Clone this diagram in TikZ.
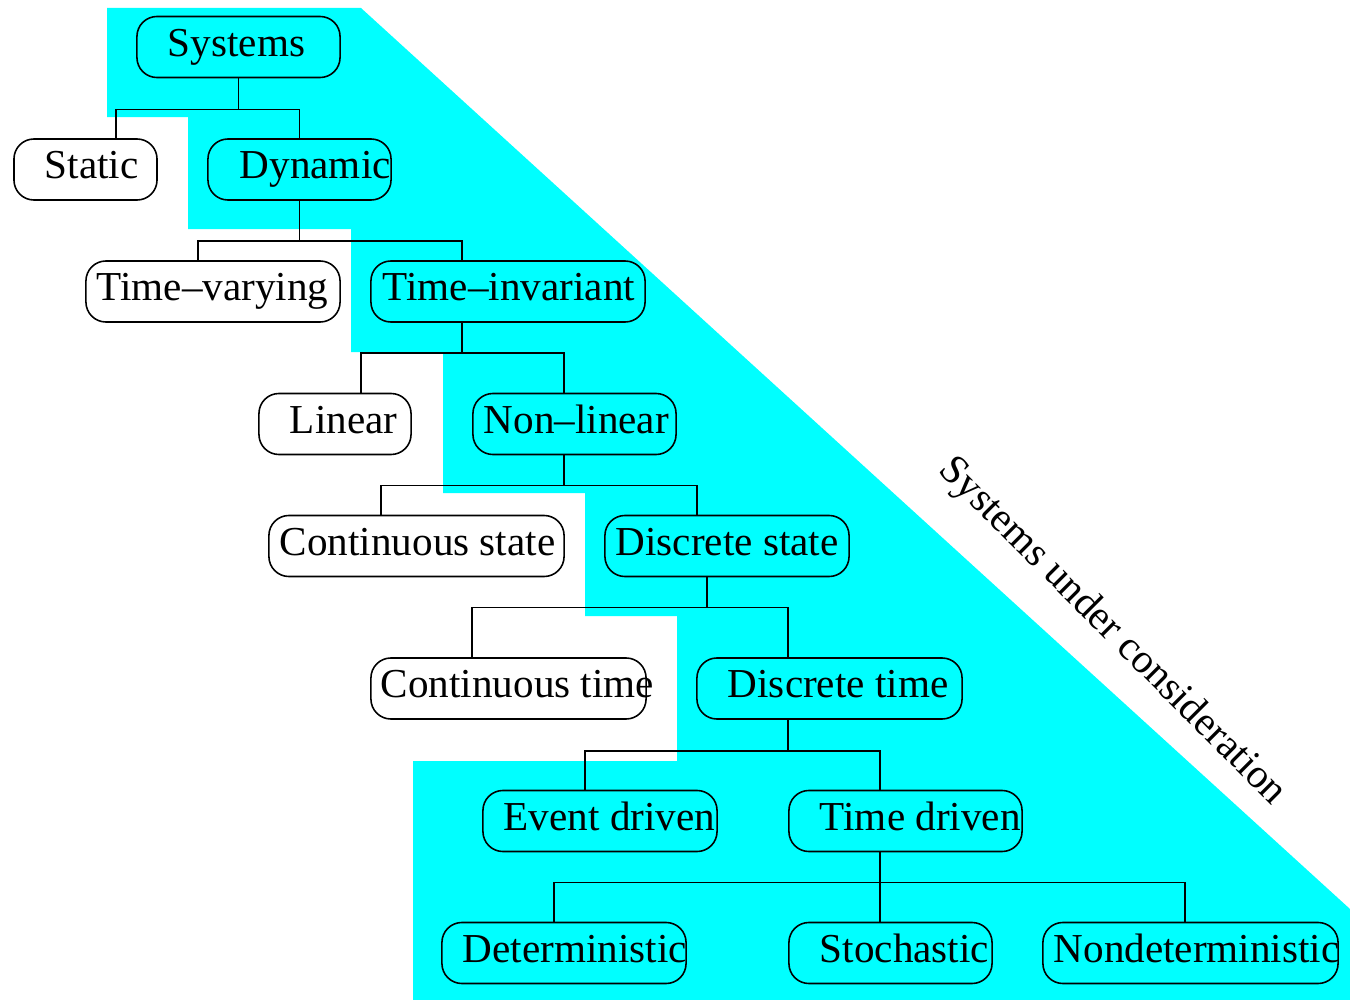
\documentclass[tikz,border=0pt]{standalone}
\usepackage{fontspec}
\setmainfont{Liberation Serif}
\usepackage{xcolor}
\usepackage{tikz}
\usetikzlibrary{calc}

\definecolor{considered}{RGB}{0,255,255}

\begin{document}
\begin{tikzpicture}[x=0.01cm, y=-0.01cm,
  sysbox/.style={draw, line width=0.45pt, rounded corners=0.2cm,
    minimum height=0.61cm, inner sep=0pt},
  boxtext/.style={anchor=west, inner sep=0pt, text height=0.76em,
    text depth=0.22em, font=\fontsize{11.7}{13}\selectfont},
  wire/.style={line width=0.45pt}]

% === Drawing region ===
\useasboundingbox (0,0) rectangle (1350,1000);

% === Region of the systems under consideration ===
\fill[considered] (107,8) -- (361,8) -- (1350,909) -- (1350,1000)
  -- (413,1000) -- (413,761) -- (677,761) -- (677,616) -- (585,616)
  -- (585,493) -- (443,493) -- (443,352) -- (351,352) -- (351,229)
  -- (188,229) -- (188,117) -- (107,117) -- cycle;

\node[rotate=-45, font=\fontsize{11.7}{13}\selectfont] (uc) at (1112,632)
  {Systems under consideration};

% === Boxes ===
\node[sysbox, minimum width=2.03cm, label={[boxtext, xshift=0.31cm]west:Systems}] (sys) at (238.5,47) {};

\node[sysbox, minimum width=1.43cm, label={[boxtext, xshift=0.31cm]west:Static}] (stat) at (85.5,169.5) {};
\node[sysbox, minimum width=1.83cm, label={[boxtext, xshift=0.32cm]west:Dynamic}] (dyn) at (299.5,169.5) {};

\node[sysbox, minimum width=2.54cm, label={[boxtext, xshift=0.11cm]west:Time--varying}] (tvar) at (213,291.5) {};
\node[sysbox, minimum width=2.74cm, label={[boxtext, xshift=0.12cm]west:Time--invariant}] (tinv) at (508,291.5) {};

\node[sysbox, minimum width=1.52cm, label={[boxtext, xshift=0.31cm]west:Linear}] (lin) at (335,424) {};
\node[sysbox, minimum width=2.03cm, label={[boxtext, xshift=0.11cm]west:Non--linear}] (nonlin) at (574.5,424) {};

\node[sysbox, minimum width=2.95cm, label={[boxtext, xshift=0.11cm]west:Continuous state}] (cstate) at (416.5,546) {};
\node[sysbox, minimum width=2.44cm, label={[boxtext, xshift=0.11cm]west:Discrete state}] (dstate) at (727,546) {};

\node[sysbox, minimum width=2.75cm, label={[boxtext, xshift=0.10cm]west:Continuous time}] (ctime) at (508.5,688.5) {};
\node[sysbox, minimum width=2.65cm, label={[boxtext, xshift=0.31cm]west:Discrete time}] (dtime) at (829.5,688.5) {};

\node[sysbox, minimum width=2.34cm, label={[boxtext, xshift=0.21cm]west:Event driven}] (event) at (600,821) {};
\node[sysbox, minimum width=2.33cm, label={[boxtext, xshift=0.31cm]west:Time driven}] (tdrv) at (905.5,821) {};

\node[sysbox, minimum width=2.44cm, label={[boxtext, xshift=0.21cm]west:Deterministic}] (det) at (564,953) {};
\node[sysbox, minimum width=2.03cm, label={[boxtext, xshift=0.31cm]west:Stochastic}] (stoch) at (890.5,953) {};
\node[sysbox, minimum width=2.95cm, label={[boxtext, xshift=0.11cm]west:Nondeterministic}] (nondet) at (1190.5,953) {};

% === Connectors ===
% Systems
\draw[wire] (sys.south) -- ++(0,31) coordinate (j1);
\draw[wire] (stat.north -| 116,0) |- (j1) -| (dyn.north);
% Dynamic
\draw[wire] (dyn.south) -- ++(0,40) coordinate (j2);
\draw[wire] (tvar.north -| 198,0) |- (j2) -| (tinv.north -| 462,0);
% Time-invariant
\draw[wire] (tinv.south -| 462,0) -- ++(0,30) coordinate (j3);
\draw[wire] (lin.north -| 361,0) |- (j3) -| (nonlin.north -| 564,0);
% Non-linear
\draw[wire] (nonlin.south -| 564,0) -- ++(0,30) coordinate (j4);
\draw[wire] (cstate.north -| 381,0) |- (j4) -| (dstate.north -| 697,0);
% Discrete state
\draw[wire] (dstate.south -| 707,0) -- ++(0,30) coordinate (j5);
\draw[wire] (ctime.north -| 472,0) |- (j5) -| (dtime.north -| 788,0);
% Discrete time
\draw[wire] (dtime.south -| 788,0) -- ++(0,31) coordinate (j6);
\draw[wire] (event.north -| 585,0) |- (j6) -| (tdrv.north -| 880,0);
% Time driven
\draw[wire] (tdrv.south -| 880,0) -- ++(0,30) coordinate (j7);
\draw[wire] (det.north -| 554,0) |- (j7) -| (nondet.north -| 1185,0);
\draw[wire] (j7) -- (stoch.north -| 880,0);

\end{tikzpicture}
\end{document}
